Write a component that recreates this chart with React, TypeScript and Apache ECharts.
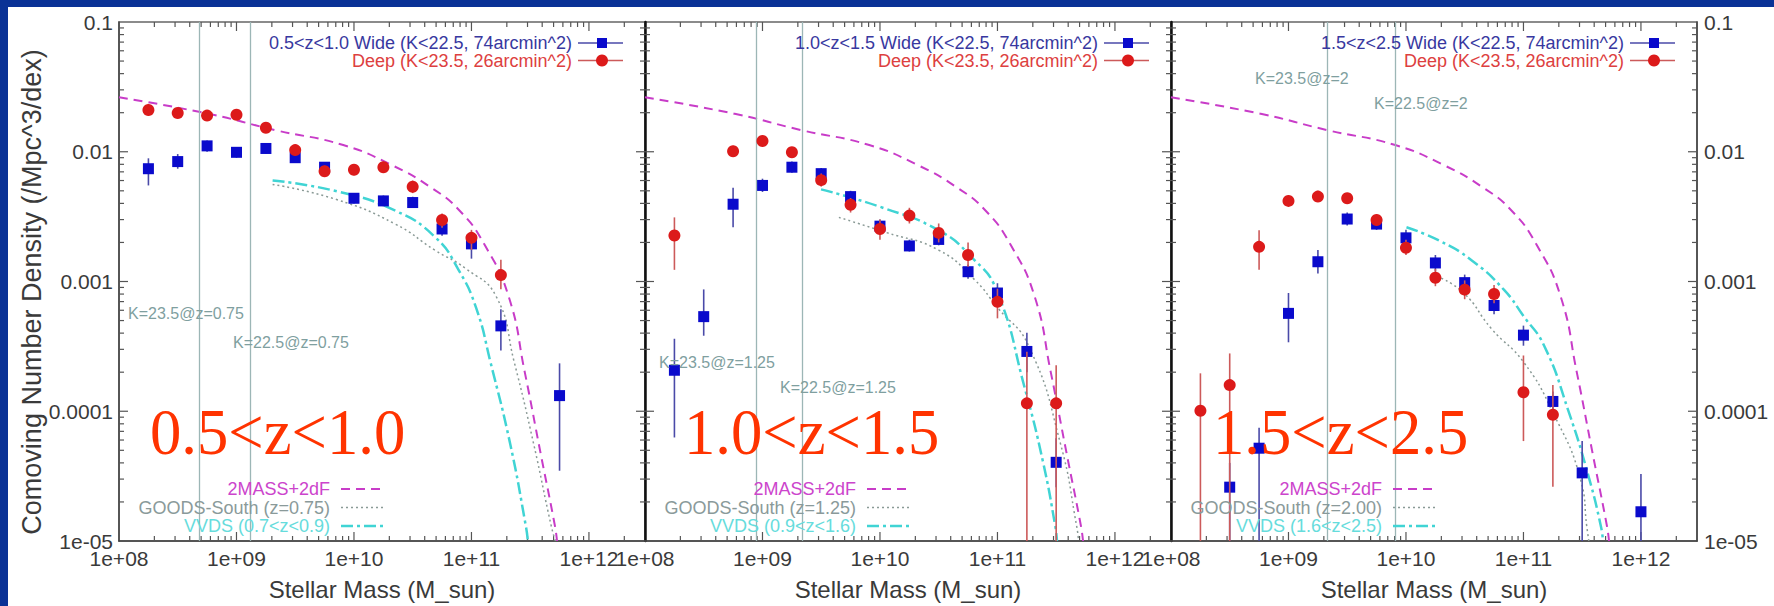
import React, { useEffect, useRef } from "react";
import * as echarts from "echarts";

// ---------------- data ----------------
// [stellar mass, density, lower error, upper error]
const wide1: number[][] = [
  [1.78e8, 0.0074, 0.0055, 0.0089],
  [3.16e8, 0.0084, 0.0074, 0.0096],
  [5.62e8, 0.0111, 0.01, 0.0122],
  [1.0e9, 0.0099, 0.009, 0.0108],
  [1.78e9, 0.0106, 0.0097, 0.0115],
  [3.16e9, 0.009, 0.0082, 0.0098],
  [5.62e9, 0.0076, 0.0069, 0.0083],
  [1.0e10, 0.00438, 0.004, 0.0048],
  [1.78e10, 0.00418, 0.0038, 0.0046],
  [3.16e10, 0.00406, 0.0037, 0.0045],
  [5.62e10, 0.00254, 0.00225, 0.00297],
  [1.0e11, 0.00195, 0.0015, 0.00218],
  [1.78e11, 0.000455, 0.000294, 0.000612],
  [5.62e11, 0.000132, 0.0000348, 0.000234],
];
const deep1: number[][] = [
  [1.78e8, 0.021, 0.019, 0.0234],
  [3.16e8, 0.0199, 0.0185, 0.0214],
  [5.62e8, 0.019, 0.0177, 0.0204],
  [1.0e9, 0.0193, 0.0178, 0.021],
  [1.78e9, 0.0153, 0.0142, 0.0165],
  [3.16e9, 0.0103, 0.0094, 0.0113],
  [5.62e9, 0.00707, 0.0064, 0.0078],
  [1.0e10, 0.00727, 0.0066, 0.008],
  [1.78e10, 0.00759, 0.0069, 0.0084],
  [3.16e10, 0.00537, 0.0048, 0.006],
  [5.62e10, 0.00298, 0.0026, 0.00335],
  [1.0e11, 0.00217, 0.00175, 0.0025],
  [1.78e11, 0.00112, 0.00087, 0.00147],
];
const wide2: number[][] = [
  [1.78e8, 0.000207, 0.0000628, 0.000362],
  [3.16e8, 0.000536, 0.000382, 0.000869],
  [5.62e8, 0.00394, 0.00262, 0.00527],
  [1.0e9, 0.0055, 0.0049, 0.0062],
  [1.78e9, 0.0076, 0.0069, 0.0084],
  [3.16e9, 0.00678, 0.0061, 0.0075],
  [5.62e9, 0.00451, 0.004, 0.005],
  [1.0e10, 0.00267, 0.0024, 0.003],
  [1.78e10, 0.00188, 0.0017, 0.0021],
  [3.16e10, 0.00211, 0.0019, 0.0024],
  [5.62e10, 0.00119, 0.00105, 0.00135],
  [1.0e11, 0.000815, 0.00068, 0.00097],
  [1.78e11, 0.000289, 0.0002, 0.000402],
  [3.16e11, 0.0000404, 0.000026, 0.000062],
];
const deep2: number[][] = [
  [1.78e8, 0.00226, 0.00123, 0.00312],
  [5.62e8, 0.0101, 0.0092, 0.0111],
  [1.0e9, 0.0121, 0.0111, 0.0132],
  [1.78e9, 0.0099, 0.009, 0.0109],
  [3.16e9, 0.00604, 0.0054, 0.0068],
  [5.62e9, 0.0039, 0.0034, 0.0044],
  [1.0e10, 0.00254, 0.0021, 0.003],
  [1.78e10, 0.00322, 0.0028, 0.0037],
  [3.16e10, 0.00237, 0.002, 0.0028],
  [5.62e10, 0.0016, 0.0013, 0.002],
  [1.0e11, 0.000697, 0.00052, 0.00088],
  [1.78e11, 0.000115, 0.00001, 0.000288],
  [3.16e11, 0.000115, 0.00001, 0.000226],
];
const wide3: number[][] = [
  [3.16e8, 0.000026, 0.00001, 0.00004],
  [5.62e8, 0.0000519, 0.00001, 0.0000745],
  [1.0e9, 0.000568, 0.00034, 0.000815],
  [1.78e9, 0.00142, 0.00115, 0.00175],
  [3.16e9, 0.00303, 0.0027, 0.0034],
  [5.62e9, 0.00277, 0.0025, 0.0031],
  [1.0e10, 0.00217, 0.0019, 0.0025],
  [1.78e10, 0.00139, 0.0012, 0.0016],
  [3.16e10, 0.00098, 0.00085, 0.00113],
  [5.62e10, 0.000653, 0.00056, 0.00076],
  [1.0e11, 0.000386, 0.00032, 0.000457],
  [1.78e11, 0.000119, 0.0001, 0.000142],
  [3.16e11, 0.0000335, 0.00001, 0.0000589],
  [1.0e12, 0.0000168, 0.00001, 0.0000329],
];
const deep3: number[][] = [
  [1.78e8, 0.000101, 0.00001, 0.000196],
  [3.16e8, 0.000159, 0.00001, 0.000279],
  [5.62e8, 0.00185, 0.00123, 0.00248],
  [1.0e9, 0.00418, 0.0038, 0.0046],
  [1.78e9, 0.00451, 0.0041, 0.005],
  [3.16e9, 0.00438, 0.004, 0.0048],
  [5.62e9, 0.00298, 0.0027, 0.0033],
  [1.0e10, 0.00182, 0.0016, 0.0021],
  [1.78e10, 0.00107, 0.00092, 0.00125],
  [3.16e10, 0.000865, 0.00073, 0.00102],
  [5.62e10, 0.000801, 0.00068, 0.00094],
  [1.0e11, 0.00014, 0.0000589, 0.000269],
  [1.78e11, 0.000094, 0.0000262, 0.000159],
];

// local mass function (2MASS+2dF), same curve in every panel
const localMF: number[][] = [
  [1e8, 0.0263], [5.8e8, 0.0196], [2.15e9, 0.01466], [8.1e9, 0.01127],
  [2.07e10, 0.00794], [4.57e10, 0.00527], [7.94e10, 0.00351], [1.28e11, 0.00195],
  [2.07e11, 0.000769], [2.84e11, 0.000201], [3.89e11, 0.0000467], [5.14e11, 0.000013],
  [5.35e11, 0.00001],
];
const goods1: number[][] = [
  [2.03e9, 0.0056], [7.0e9, 0.0043], [2.25e10, 0.00277], [4.9e10, 0.00174],
  [8.9e10, 0.00126], [1.62e11, 0.000769], [2.31e11, 0.00024], [3.39e11, 0.0000556],
  [4.79e11, 0.0000129], [5.19e11, 0.00001],
];
const vvds1: number[][] = [
  [2.03e9, 0.006], [7.0e9, 0.00498], [2.25e10, 0.00351], [4.9e10, 0.0022],
  [7.76e10, 0.00123], [1.1e11, 0.00062], [1.45e11, 0.00024], [2.14e11, 0.0000556],
  [2.91e11, 0.0000129], [3.02e11, 0.00001],
];
const goods2: number[][] = [
  [4.47e9, 0.00312], [1.11e10, 0.0024], [3.18e10, 0.00174], [6.4e10, 0.00103],
  [1.0e11, 0.00063], [1.84e11, 0.00032], [3.45e11, 0.0000556], [4.73e11, 0.0000129],
  [4.9e11, 0.00001],
];
const vvds2: number[][] = [
  [3.15e9, 0.00513], [1.04e10, 0.00372], [3.18e10, 0.00247], [5.98e10, 0.00155],
  [9.77e10, 0.000865], [1.71e11, 0.00015], [2.43e11, 0.0000415],
  [3.11e11, 0.0000129], [3.21e11, 0.00001],
];
const goods3: number[][] = [
  [1.83e10, 0.0011], [3.08e10, 0.00082], [5.37e10, 0.00043], [1.0e11, 0.00024],
  [1.76e11, 0.0001], [3.08e11, 0.0000292], [3.46e11, 0.0000129], [3.6e11, 0.00001],
];
const vvds3: number[][] = [
  [1.01e10, 0.00262], [1.91e10, 0.00207], [3.61e10, 0.00146], [6.81e10, 0.000865],
  [1.0e11, 0.000542], [1.5e11, 0.00032], [2.42e11, 0.0000998], [3.6e11, 0.000031],
  [4.57e11, 0.0000129], [4.75e11, 0.00001],
];

const kLimitMass: number[][] = [
  [4.8e8, 1.32e9],
  [8.9e8, 2.19e9],
  [2.15e9, 8.1e9],
];
const kLimitLabels: string[][] = [
  ["K=23.5@z=0.75", "K=22.5@z=0.75"],
  ["K=23.5@z=1.25", "K=22.5@z=1.25"],
  ["K=23.5@z=2", "K=22.5@z=2"],
];

const panelLabels = ["0.5<z<1.0", "1.0<z<1.5", "1.5<z<2.5"];
const wideNames = [
  "0.5<z<1.0 Wide (K<22.5, 74arcmin^2)",
  "1.0<z<1.5 Wide (K<22.5, 74arcmin^2)",
  "1.5<z<2.5 Wide (K<22.5, 74arcmin^2)",
];
const deepName = "Deep (K<23.5, 26arcmin^2)";
const localName = "2MASS+2dF";
const goodsNames = ["GOODS-South (z=0.75)", "GOODS-South (z=1.25)", "GOODS-South (z=2.00)"];
const vvdsNames = ["VVDS (0.7<z<0.9)", "VVDS (0.9<z<1.6)", "VVDS (1.6<z<2.5)"];
const xTitle = "Stellar Mass (M_sun)";
const yTitle = "Comoving Number Density (/Mpc^3/dex)";

const X_MIN = 1e8;
const X_MAX = 3e12;
const Y_MIN = 1e-5;
const Y_MAX = 0.1;

const WIDE = [wide1, wide2, wide3];
const DEEP = [deep1, deep2, deep3];
const GOODS = [goods1, goods2, goods3];
const VVDS = [vvds1, vvds2, vvds3];

// ---------------- layout / style ----------------
const GRID_LEFTS = [119, 645, 1171];
const GRID_TOP = 22;
const GRID_SIZE = 526;
const SANS = '"Liberation Sans", Arial, sans-serif';
const SERIF = '"Liberation Serif", "Times New Roman", serif';
const K_LABEL_POS = [
  [[128, 313], [233, 342]],
  [[659, 362], [780, 387]],
  [[1255, 78], [1374, 103]],
];
const BIG_LABEL_X = [150, 684, 1213];

const C_BLUE = "#0a0acc";
const C_RED = "#dc1a1a";
const C_BLUE_ERR = "#4a4aa8";
const C_RED_ERR = "#cc5a5a";
const C_MAG = "#c83cc8";
const C_CYAN = "#40d4d4";
const C_GRAY = "#8a9a96";
const C_KLINE = "#9cb6b6";
const C_KTEXT = "#7f9f9f";
const C_AXIS_TEXT = "#3a3a3a";

function fmtMass(v: number) {
  const e = Math.round(Math.log10(v));
  if (Math.abs(v / Math.pow(10, e) - 1) > 1e-6) return "";
  return "1e+" + String(e).padStart(2, "0");
}
function fmtPhi(v: number) {
  const e = Math.round(Math.log10(v));
  if (Math.abs(v / Math.pow(10, e) - 1) > 1e-6) return "";
  return e >= -4 ? v.toFixed(-e) : "1e-" + String(-e).padStart(2, "0");
}

function buildTicks() {
  const out: number[][] = [];
  for (let k = 8; k <= 12; k++) {
    for (let m = 1; m <= 9; m++) {
      const v = m * Math.pow(10, k);
      if (v <= X_MAX * 1.0001) out.push([v, 1e-3, m === 1 ? 1 : 0, 0]);
    }
  }
  for (let k = -5; k <= -1; k++) {
    for (let m = 1; m <= 9; m++) {
      const v = m * Math.pow(10, k);
      if (v <= Y_MAX * 1.0001) out.push([1e10, v, m === 1 ? 1 : 0, 1]);
    }
  }
  return out;
}

function tickRender(params: any, api: any) {
  const cs = params.coordSys;
  const major = api.value(2) === 1;
  const axis = api.value(3);
  const len = major ? 9 : 5;
  const style = { stroke: "#555", lineWidth: 1.2 };
  if (axis === 0) {
    const x = api.coord([api.value(0), api.value(1)])[0];
    if (x <= cs.x + 0.5 || x >= cs.x + cs.width - 0.5) return null;
    return {
      type: "group",
      children: [
        { type: "line", shape: { x1: x, y1: cs.y + cs.height, x2: x, y2: cs.y + cs.height - len }, style },
        { type: "line", shape: { x1: x, y1: cs.y, x2: x, y2: cs.y + len }, style },
      ],
    };
  }
  const y = api.coord([api.value(0), api.value(1)])[1];
  if (y <= cs.y + 0.5 || y >= cs.y + cs.height - 0.5) return null;
  return {
    type: "group",
    children: [
      { type: "line", shape: { x1: cs.x, y1: y, x2: cs.x + len, y2: y }, style },
      { type: "line", shape: { x1: cs.x + cs.width, y1: y, x2: cs.x + cs.width - len, y2: y }, style },
    ],
  };
}

function errRender(color: string) {
  return (params: any, api: any) => {
    const cs = params.coordSys;
    const hi = api.coord([api.value(0), api.value(3)]);
    const lo = api.coord([api.value(0), api.value(2)]);
    const y1 = Math.max(cs.y, hi[1]);
    const y2 = Math.min(cs.y + cs.height, lo[1]);
    return {
      type: "line",
      shape: { x1: hi[0], y1, x2: hi[0], y2 },
      style: { stroke: color, lineWidth: 1.6 },
    };
  };
}

function buildOption() {
  const ticks = buildTicks();
  const yIdx = [0, 1, 2];
  const series: any[] = [];
  const graphics: any[] = [];

  // blue frame of the slide
  graphics.push({ type: "rect", shape: { x: 0, y: 0, width: 8, height: 606 }, style: { fill: "#0a3296" }, z: 50 });
  graphics.push({ type: "rect", shape: { x: 0, y: 0, width: 1774, height: 7 }, style: { fill: "#0a3296" }, z: 50 });

  for (let p = 0; p < 3; p++) {
    const common = { xAxisIndex: p, yAxisIndex: yIdx[p] };
    series.push({
      ...common,
      type: "line",
      name: localName,
      data: localMF,
      showSymbol: false,
      smooth: 0.5,
      lineStyle: { color: C_MAG, width: 2, type: [9, 6] },
      z: 2,
      markLine: {
        silent: true,
        symbol: ["none", "none"],
        label: { show: false },
        lineStyle: { color: C_KLINE, width: 1.3, type: "solid" },
        data: kLimitMass[p].map((m) => ({ xAxis: m })),
      },
    });
    series.push({
      ...common,
      type: "line",
      name: goodsNames[p],
      data: GOODS[p],
      showSymbol: false,
      smooth: 0.5,
      lineStyle: { color: C_GRAY, width: 1.5, type: [2, 3] },
      z: 2,
    });
    series.push({
      ...common,
      type: "line",
      name: vvdsNames[p],
      data: VVDS[p],
      showSymbol: false,
      smooth: 0.5,
      lineStyle: { color: C_CYAN, width: 2.5, type: [12, 4, 3, 4] },
      z: 2,
    });
    series.push({
      ...common,
      type: "custom",
      name: "ticks" + p,
      silent: true,
      data: ticks,
      renderItem: tickRender,
      encode: { x: 0, y: 1 },
      z: 1,
    });
    series.push({
      ...common,
      type: "custom",
      name: wideNames[p] + " err",
      silent: true,
      data: WIDE[p],
      renderItem: errRender(C_BLUE_ERR),
      encode: { x: 0, y: 1 },
      z: 3,
    });
    series.push({
      ...common,
      type: "scatter",
      name: wideNames[p],
      data: WIDE[p].map((d) => [d[0], d[1]]),
      symbol: "rect",
      symbolSize: 11,
      itemStyle: { color: C_BLUE, opacity: 1 },
      z: 4,
    });
    series.push({
      ...common,
      type: "custom",
      name: deepName + " err" + p,
      silent: true,
      data: DEEP[p],
      renderItem: errRender(C_RED_ERR),
      encode: { x: 0, y: 1 },
      z: 5,
    });
    series.push({
      ...common,
      type: "scatter",
      name: deepName,
      data: DEEP[p].map((d) => [d[0], d[1]]),
      symbol: "circle",
      symbolSize: 12,
      itemStyle: { color: C_RED, opacity: 1 },
      z: 6,
    });

    const L = GRID_LEFTS[p];
    const R = L + GRID_SIZE;
    // top key
    graphics.push({
      type: "text", x: R - 73, y: 43, z: 60,
      style: { text: wideNames[p], align: "right", verticalAlign: "middle", fill: "#3838a0", font: `18px ${SANS}` },
    });
    graphics.push({ type: "line", z: 60, shape: { x1: R - 67, y1: 43, x2: R - 22, y2: 43 }, style: { stroke: C_BLUE_ERR, lineWidth: 1.5 } });
    graphics.push({ type: "rect", z: 61, shape: { x: R - 48, y: 38, width: 10, height: 10 }, style: { fill: C_BLUE } });
    graphics.push({
      type: "text", x: R - 73, y: 60.5, z: 60,
      style: { text: deepName, align: "right", verticalAlign: "middle", fill: "#dd4040", font: `18px ${SANS}` },
    });
    graphics.push({ type: "line", z: 60, shape: { x1: R - 67, y1: 60.5, x2: R - 22, y2: 60.5 }, style: { stroke: C_RED_ERR, lineWidth: 1.5 } });
    graphics.push({ type: "circle", z: 61, shape: { cx: R - 43, cy: 60.5, r: 6 }, style: { fill: C_RED } });

    // bottom key
    const keyRows = [
      { text: localName, color: "#cc44cc", stroke: C_MAG, dash: [9, 6], w: 2, y: 489 },
      { text: goodsNames[p], color: "#8a9a9a", stroke: C_GRAY, dash: [2, 3], w: 1.5, y: 507.5 },
      { text: vvdsNames[p], color: "#66dcdc", stroke: C_CYAN, dash: [12, 4, 3, 4], w: 2.5, y: 526 },
    ];
    keyRows.forEach((k) => {
      graphics.push({
        type: "text", x: L + 211, y: k.y, z: 60,
        style: { text: k.text, align: "right", verticalAlign: "middle", fill: k.color, font: `18px ${SANS}` },
      });
      graphics.push({
        type: "line", z: 60,
        shape: { x1: L + 222, y1: k.y, x2: L + 266, y2: k.y },
        style: { stroke: k.stroke, lineWidth: k.w, lineDash: k.dash },
      });
    });

    // mass limit labels
    kLimitLabels[p].forEach((t, i) => {
      graphics.push({
        type: "text", x: K_LABEL_POS[p][i][0], y: K_LABEL_POS[p][i][1], z: 60,
        style: { text: t, align: "left", verticalAlign: "middle", fill: C_KTEXT, font: `16px ${SANS}` },
      });
    });

    // big redshift label
    graphics.push({
      type: "text", x: BIG_LABEL_X[p], y: 432, z: 80, scaleX: 0.95,
      style: { text: panelLabels[p], align: "left", verticalAlign: "middle", fill: "#ff3300", font: `66px ${SERIF}` },
    });
  }

  graphics.push({
    type: "text", x: 32, y: 292, rotation: Math.PI / 2, z: 60,
    style: { text: yTitle, align: "center", verticalAlign: "middle", fill: C_AXIS_TEXT, font: `27px ${SANS}` },
  });

  const axisLabelStyle = { color: C_AXIS_TEXT, fontSize: 21, fontFamily: SANS };

  const xAxis = GRID_LEFTS.map((_, i) => ({
    type: "log",
    logBase: 10,
    gridIndex: i,
    min: X_MIN,
    max: X_MAX,
    axisLine: { show: true, onZero: false, lineStyle: { color: "#444", width: 1.5 } },
    axisTick: { show: false },
    splitLine: { show: false },
    axisLabel: { ...axisLabelStyle, formatter: fmtMass, margin: 7, showMaxLabel: false, hideOverlap: false },
    name: xTitle,
    nameLocation: "middle",
    nameGap: 36,
    nameTextStyle: { color: C_AXIS_TEXT, fontSize: 24, fontFamily: SANS },
  }));

  const yBase = {
    type: "log",
    logBase: 10,
    min: Y_MIN,
    max: Y_MAX,
    axisTick: { show: false },
    splitLine: { show: false },
  };
  const yAxis = [
    {
      ...yBase, gridIndex: 0, position: "left",
      axisLine: { show: true, onZero: false, lineStyle: { color: "#444", width: 1.5 } },
      axisLabel: { ...axisLabelStyle, formatter: fmtPhi, margin: 6 },
    },
    {
      ...yBase, gridIndex: 1, position: "left",
      axisLine: { show: true, onZero: false, lineStyle: { color: "#111", width: 2.5 } },
      axisLabel: { show: false },
    },
    {
      ...yBase, gridIndex: 2, position: "right",
      axisLine: { show: true, onZero: false, lineStyle: { color: "#444", width: 1.5 } },
      axisLabel: { ...axisLabelStyle, formatter: fmtPhi, margin: 7 },
    },
    {
      ...yBase, gridIndex: 2, position: "left",
      axisLine: { show: true, onZero: false, lineStyle: { color: "#111", width: 2.5 } },
      axisLabel: { show: false },
    },
  ];

  return {
    animation: false,
    backgroundColor: "#ffffff",
    grid: GRID_LEFTS.map((l) => ({
      left: l,
      top: GRID_TOP,
      width: GRID_SIZE,
      height: GRID_SIZE,
      show: true,
      borderColor: "#666",
      borderWidth: 1.5,
      containLabel: false,
    })),
    xAxis,
    yAxis,
    series,
    graphic: { elements: graphics },
  };
}

export default function App() {
  const ref = useRef<HTMLDivElement>(null);
  useEffect(() => {
    document.body.style.margin = "0";
    document.body.style.overflow = "hidden";
    const chart = echarts.init(ref.current as HTMLDivElement, null, { renderer: "svg" });
    chart.setOption(buildOption() as any);
    return () => chart.dispose();
  }, []);
  return <div ref={ref} style={{ width: 1774, height: 606 }} />;
}
